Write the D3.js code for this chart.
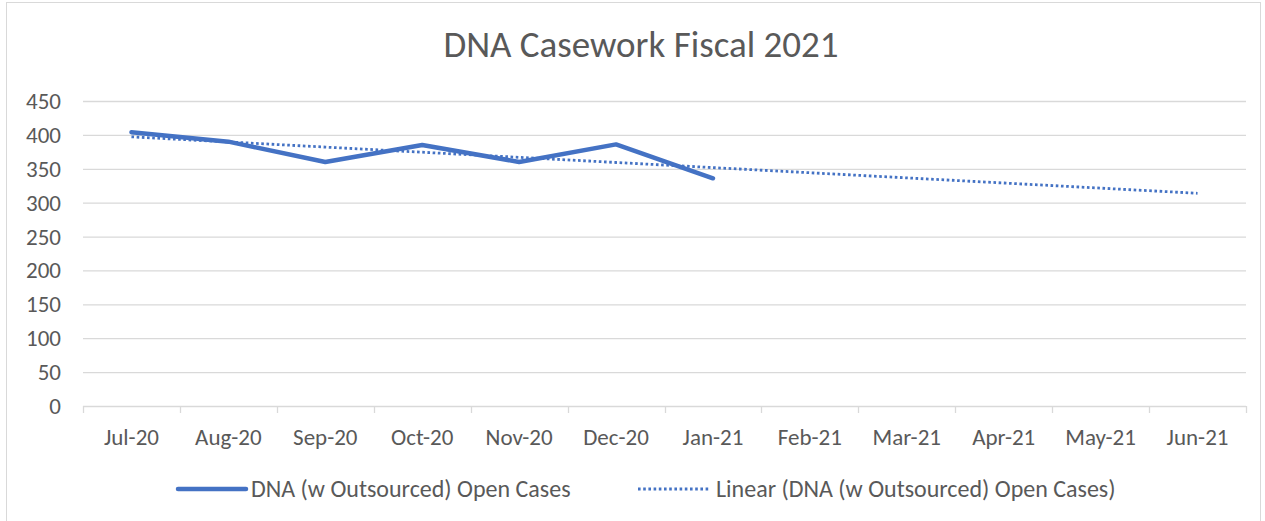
<!DOCTYPE html>
<html>
<head>
<meta charset="utf-8">
<script src="https://cdn.jsdelivr.net/npm/d3@7"></script>
<style>
  body { margin: 0; background: #fff; }
  text { font-family: Calibri, Carlito, "Open Sans", sans-serif; fill: #595959; }
</style>
</head>
<body>
<svg id="chart" width="1265" height="521"></svg>
<script>
// Chart data
const months = ['Jul-20', 'Aug-20', 'Sep-20', 'Oct-20', 'Nov-20', 'Dec-20',
                'Jan-21', 'Feb-21', 'Mar-21', 'Apr-21', 'May-21', 'Jun-21'];
const openCases = [404, 390, 360, 385, 360, 386, 336];
const yTicks = [0, 50, 100, 150, 200, 250, 300, 350, 400, 450];

const blue = '#4472C4';
const svg = d3.select('#chart');

// Outer chart border
svg.append('rect')
    .attr('x', 6.5).attr('y', 2.5)
    .attr('width', 1254).attr('height', 530)
    .attr('fill', '#fff')
    .attr('stroke', '#d9d9d9');

// Title
svg.append('text')
    .attr('x', 641).attr('y', 57)
    .attr('text-anchor', 'middle')
    .style('font-size', '37px')
    .text('DNA Casework Fiscal 2021');

const x = d3.scaleBand().domain(months).range([83, 1246]);
const y = d3.scaleLinear().domain([0, 450]).range([406, 101]);
const cx = m => x(m) + x.bandwidth() / 2;

// Gridlines
svg.append('g')
    .selectAll('line')
    .data(yTicks.filter(t => t > 0))
    .join('line')
    .attr('x1', 83).attr('x2', 1246)
    .attr('y1', d => y(d) + 0.5).attr('y2', d => y(d) + 0.5)
    .attr('stroke', '#d9d9d9')
    .attr('stroke-width', 1.3);

// Y labels
svg.append('g')
    .selectAll('text')
    .data(yTicks)
    .join('text')
    .attr('x', 61)
    .attr('y', d => y(d) + 8)
    .attr('text-anchor', 'end')
    .style('font-size', '23px')
    .text(d => d);

// X axis
const xAxis = svg.append('g');
xAxis.append('line')
    .attr('x1', 83).attr('x2', 1246)
    .attr('y1', 406.5).attr('y2', 406.5)
    .attr('stroke', '#d9d9d9').attr('stroke-width', 1.3);
xAxis.selectAll('line.tick')
    .data(months.concat(['end']))
    .join('line')
    .attr('class', 'tick')
    .attr('x1', (d, i) => Math.round(83 + i * x.step()) + 0.5)
    .attr('x2', (d, i) => Math.round(83 + i * x.step()) + 0.5)
    .attr('y1', 406).attr('y2', 413)
    .attr('stroke', '#d9d9d9').attr('stroke-width', 1.3);
xAxis.selectAll('text')
    .data(months)
    .join('text')
    .attr('x', d => cx(d))
    .attr('y', 445)
    .attr('text-anchor', 'middle')
    .style('font-size', '23px')
    .text(d => d);

// Linear trendline (least squares over the actual points)
const mx = d3.mean(openCases, (v, i) => i);
const my = d3.mean(openCases);
const slope = d3.sum(openCases, (v, i) => (i - mx) * (v - my)) /
              d3.sum(openCases, (v, i) => (i - mx) * (i - mx));
const intercept = my - slope * mx;
const trend = months.map((m, i) => ({ m, v: intercept + slope * i }));

const line = d3.line().x(d => cx(d.m)).y(d => y(d.v));

svg.append('path')
    .datum(trend)
    .attr('d', line)
    .attr('fill', 'none')
    .attr('stroke', blue)
    .attr('stroke-width', 2.8)
    .attr('stroke-dasharray', '2.6 2.6');

svg.append('path')
    .datum(openCases.map((v, i) => ({ m: months[i], v })))
    .attr('d', line)
    .attr('fill', 'none')
    .attr('stroke', blue)
    .attr('stroke-width', 4.5)
    .attr('stroke-linejoin', 'round')
    .attr('stroke-linecap', 'round');

// Legend
const legend = svg.append('g');
legend.append('line')
    .attr('x1', 178).attr('x2', 246)
    .attr('y1', 489).attr('y2', 489)
    .attr('stroke', blue).attr('stroke-width', 4.5)
    .attr('stroke-linecap', 'round');
legend.append('text')
    .attr('x', 251).attr('y', 497)
    .style('font-size', '24px')
    .text('DNA (w Outsourced) Open Cases');
legend.append('line')
    .attr('x1', 638).attr('x2', 710)
    .attr('y1', 489).attr('y2', 489)
    .attr('stroke', blue).attr('stroke-width', 2.8)
    .attr('stroke-dasharray', '2.6 2.6');
legend.append('text')
    .attr('x', 716).attr('y', 497)
    .style('font-size', '24px')
    .text('Linear (DNA (w Outsourced) Open Cases)');
</script>
</body>
</html>
